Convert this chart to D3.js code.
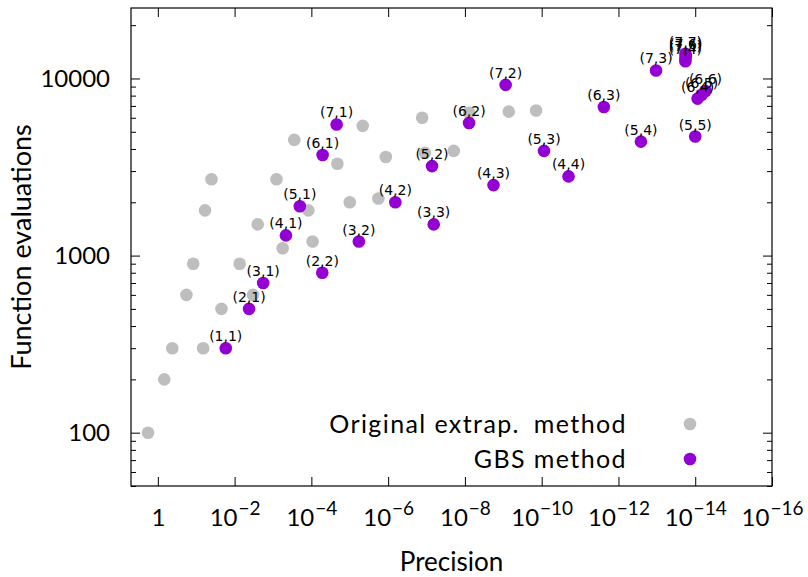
<!DOCTYPE html>
<html>
<head>
<meta charset="utf-8">
<script src="https://cdn.jsdelivr.net/npm/d3@7"></script>
<style>
  body { margin: 0; background: #fff; }
  text { fill: #000; }
</style>
</head>
<body>
<svg id="chart"></svg>
<script>
// Original extrapolation method (grey points)
var origPrecision = [1.8, 0.68, 0.42, 0.066, 0.18, 0.12, 0.022, 0.0074, 0.0033, 5.6e-4,
    9.3e-5, 2.5e-3, 0.04, 0.059, 8.1e-4, 1.2e-4, 2.8e-4, 2.1e-5, 4.6e-6, 1.0e-5,
    1.8e-6, 1.15e-6, 1.3e-7, 1.1e-7, 1.95e-8, 7.8e-9, 7.2e-10, 1.4e-10];
var origEvals = [100, 200, 300, 300, 600, 900, 500, 900, 600, 1100,
    1200, 1500, 2700, 1800, 2700, 1800, 4500, 3300, 5400, 2000,
    2100, 3600, 6000, 3800, 3900, 6400, 6500, 6600];

// GBS method (purple points) with their (n,k) labels
var gbsLabels = ["(1,1)", "(2,1)", "(2,2)", "(3,1)", "(3,2)", "(3,3)",
    "(4,1)", "(4,2)", "(4,3)", "(4,4)", "(5,1)", "(5,2)", "(5,3)", "(5,4)", "(5,5)",
    "(6,1)", "(6,2)", "(6,3)", "(6,4)", "(6,5)", "(6,6)",
    "(7,1)", "(7,2)", "(7,3)", "(7,4)", "(7,5)", "(7,6)", "(7,7)"];
var gbsPrecision = [1.7e-2, 4.2e-3, 5.2e-5, 1.8e-3, 5.8e-6, 6.5e-8,
    4.6e-4, 6.5e-7, 1.8e-9, 2.0e-11, 2.0e-4, 7.2e-8, 8.7e-11, 2.6e-13, 1.0e-14,
    5.1e-5, 7.8e-9, 2.4e-12, 8.7e-15, 6.8e-15, 5.4e-15,
    2.2e-5, 8.7e-10, 1.05e-13, 1.8e-14, 1.8e-14, 1.75e-14, 1.8e-14];
var gbsEvals = [300, 500, 800, 700, 1200, 1500,
    1300, 2000, 2500, 2800, 1900, 3200, 3900, 4400, 4700,
    3700, 5600, 6900, 7700, 8100, 8500,
    5500, 9200, 11100, 12500, 13000, 13400, 13800];

var xTickValues = [1, 1e-2, 1e-4, 1e-6, 1e-8, 1e-10, 1e-12, 1e-14, 1e-16];
var legendNames = ["Original extrap.\u2002method", "GBS method"];
var colors = { orig: "#bebebe", gbs: "#9400d3" };

var W = 808, H = 577;
var margin = { top: 8, right: 36, bottom: 91, left: 131 };
var font = "Lato, 'Open Sans', sans-serif";

var svg = d3.select("#chart").attr("width", W).attr("height", H);

var x = d3.scaleLog().domain([5, 1e-16]).range([margin.left, W - margin.right]);
var y = d3.scaleLog().domain([50, 25000]).range([H - margin.bottom, margin.top]);

var x0 = margin.left, x1 = W - margin.right, y0 = H - margin.bottom, y1 = margin.top;

var yAll = y.ticks();
var yMajor = yAll.filter(function(d) { return Math.abs(Math.log10(d) - Math.round(Math.log10(d))) < 1e-9; });
var yMinor = yAll.filter(function(d) { return yMajor.indexOf(d) < 0; });

// bottom axis with superscript labels
var gx = svg.append("g").attr("transform", "translate(0," + y0 + ")")
    .call(d3.axisBottom(x).tickValues(xTickValues).tickSize(-9).tickPadding(23).tickFormat(function(d) { return d; }));
gx.selectAll(".tick text").each(function(d) {
    var t = d3.select(this).text("");
    var e = Math.round(Math.log10(d));
    if (e === 0) { t.text("1"); return; }
    t.append("tspan").text("10");
    t.append("tspan").attr("dx", 1).attr("dy", "-0.56em").style("font-size", "19px").text("\u2212" + (-e));
});
// top axis ticks
svg.append("g").attr("transform", "translate(0," + y1 + ")")
    .call(d3.axisTop(x).tickValues(xTickValues).tickSize(-9).tickFormat(""));

// left axis
var gy = svg.append("g").attr("transform", "translate(" + x0 + ",0)")
    .call(d3.axisLeft(y).tickValues(yMajor).tickSize(-9).tickPadding(21).tickFormat(d3.format("d")));
svg.append("g").attr("transform", "translate(" + x0 + ",0)")
    .call(d3.axisLeft(y).tickValues(yMinor).tickSize(-5).tickFormat(""));
// right axis
svg.append("g").attr("transform", "translate(" + x1 + ",0)")
    .call(d3.axisRight(y).tickValues(yMajor).tickSize(-9).tickFormat(""));
svg.append("g").attr("transform", "translate(" + x1 + ",0)")
    .call(d3.axisRight(y).tickValues(yMinor).tickSize(-5).tickFormat(""));

svg.selectAll(".domain").remove();
svg.selectAll(".tick line").attr("stroke", "#000").attr("stroke-width", 1);
svg.selectAll(".tick text").style("font-family", font).style("font-size", "24px").attr("fill", "#000");

// frame
svg.append("rect")
    .attr("x", x0).attr("y", y1).attr("width", x1 - x0).attr("height", y0 - y1)
    .attr("fill", "none").attr("stroke", "#000").attr("stroke-width", 1.2);

// points
var r = 6.3;
svg.append("g").selectAll("circle")
    .data(origPrecision)
    .enter().append("circle")
    .attr("cx", function(d) { return x(d); })
    .attr("cy", function(d, i) { return y(origEvals[i]); })
    .attr("r", r)
    .attr("fill", colors.orig);

svg.append("g").selectAll("circle")
    .data(gbsPrecision)
    .enter().append("circle")
    .attr("cx", function(d) { return x(d); })
    .attr("cy", function(d, i) { return y(gbsEvals[i]); })
    .attr("r", r)
    .attr("fill", colors.gbs);

svg.append("g").selectAll("text")
    .data(gbsLabels)
    .enter().append("text")
    .attr("x", function(d, i) { return x(gbsPrecision[i]); })
    .attr("y", function(d, i) { return y(gbsEvals[i]) - 7; })
    .attr("text-anchor", "middle")
    .style("font-family", "'DejaVu Sans', sans-serif")
    .style("font-size", "14px")
    .attr("fill", "#222")
    .text(function(d) { return d; });

// legend
var legend = svg.append("g");
legendNames.forEach(function(name, i) {
    var ly = 424 + i * 35;
    legend.append("text")
        .attr("x", 627).attr("y", ly).attr("dy", "0.35em")
        .attr("text-anchor", "end")
        .style("font-family", font).style("font-size", "25px")
        .style("letter-spacing", "1.4px")
        .text(name);
    legend.append("circle")
        .attr("cx", 690).attr("cy", ly).attr("r", r)
        .attr("fill", i === 0 ? colors.orig : colors.gbs);
});

// axis titles
svg.append("text")
    .attr("x", (x0 + x1) / 2).attr("y", 571)
    .attr("text-anchor", "middle")
    .style("font-family", font).style("font-size", "26px")
    .text("Precision");
svg.append("text")
    .attr("transform", "translate(31," + ((y0 + y1) / 2) + ") rotate(-90)")
    .attr("text-anchor", "middle")
    .style("font-family", font).style("font-size", "27px")
    .text("Function evaluations");
</script>
</body>
</html>
